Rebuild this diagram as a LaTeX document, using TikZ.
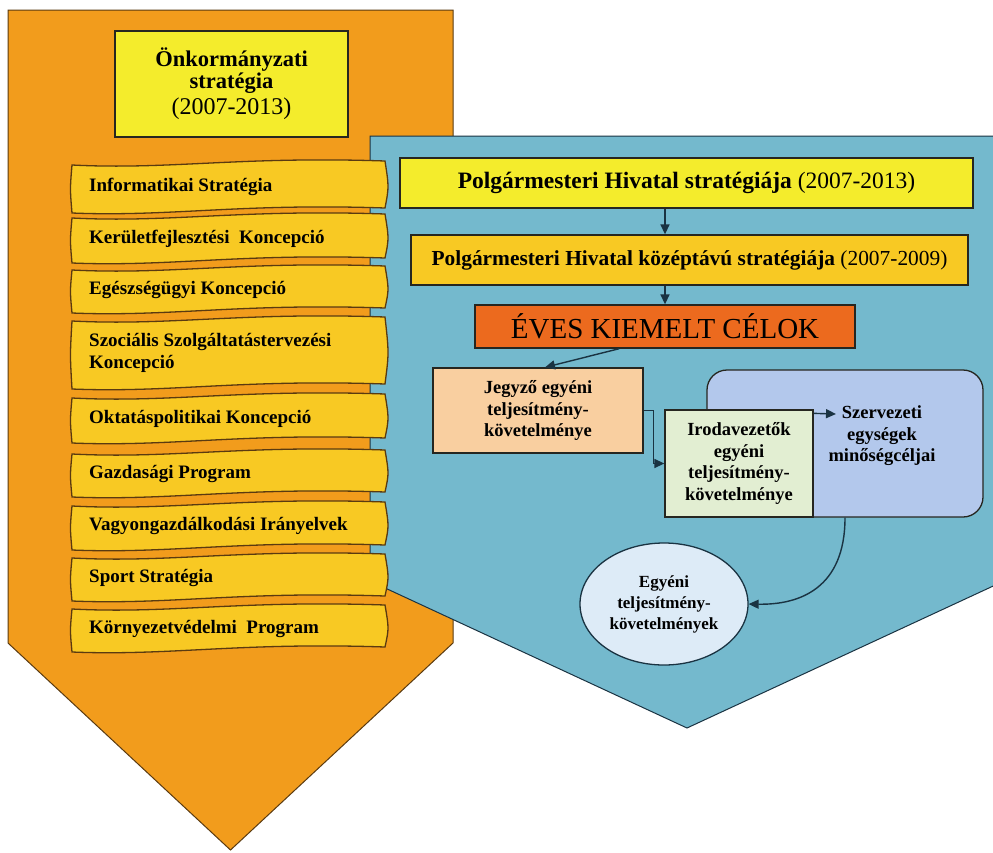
\documentclass[tikz,border=0pt]{standalone}
\usepackage{fontspec}
\setmainfont{Liberation Serif}
\usetikzlibrary{arrows.meta,calc,shapes.geometric}
\definecolor{orangeA}{HTML}{F29C1C}
\definecolor{orangeline}{HTML}{5A3A10}
\definecolor{bluebg}{HTML}{74B9CD}
\definecolor{titleyel}{HTML}{F4EC2C}
\definecolor{banneryel}{HTML}{F8C923}
\definecolor{evesorange}{HTML}{EC6A1E}
\definecolor{peach}{HTML}{F9CFA0}
\definecolor{palegreen}{HTML}{E2EED2}
\definecolor{lavender}{HTML}{B3C8EC}
\definecolor{paleblue}{HTML}{DDEBF7}
\definecolor{outline}{HTML}{262620}
\definecolor{arrowc}{HTML}{1A3342}
\tikzset{
  box/.style={draw=outline, line width=1.3pt, align=center, inner sep=2pt},
  conn/.style={draw=arrowc, line width=1.4pt, -{Triangle[length=10pt,width=9pt]}},
  bannerfill/.style={fill=banneryel, draw=orangeline, line width=1.3pt},
  bannertxt/.style={anchor=west, font=\bfseries\fontsize{19}{22}\selectfont, align=left, inner sep=0pt},
  smalltxt/.style={font=\bfseries\fontsize{18.5}{21.5}\selectfont, align=center}
}
\newcommand{\wavebanner}[4]{%
  \path[bannerfill] (72,{#2+4}) .. controls (170,{#2+9}) and (240,{#2-5}) .. (385,#2)
    .. controls (389,{(#2+#3)/2}) .. (385,{#3-5})
    .. controls (240,{#3-10}) and (170,{#3+4}) .. (72,#3)
    .. controls (70,{(#2+#3)/2+2}) .. (72,{#2+4}) -- cycle;
  \node[bannertxt] (#1) at (89,{(#2+#3)/2}) {#4};
}
\begin{document}
\begin{tikzpicture}[x=1pt,y=-1pt]
\useasboundingbox (0,0) rectangle (993,852);
\fill[white] (0,0) rectangle (993,852);
% orange arrow
\draw[fill=orangeA, draw=orangeline, line width=1pt]
  (8,10) -- (453,10) -- (453,643) -- (230.5,850) -- (8,643) -- cycle;
% title box
\node[box, fill=titleyel, minimum width=233pt, minimum height=106pt] (title) at (231.5,84)
  {\bfseries\fontsize{22.5}{23}\selectfont Önkormányzati\\[0pt]
   \bfseries\fontsize{22.5}{23}\selectfont stratégia\\[4pt]
   \fontsize{24}{24}\selectfont (2007-2013)};
% blue arrow
\draw[fill=bluebg, draw=arrowc, line width=1pt]
  (370,136) -- (1004,136) -- (1004,581) -- (687,728) -- (370,581) -- cycle;
% banners
\wavebanner{b1}{161}{213}{Informatikai Stratégia}
\wavebanner{b2}{214}{263}{Kerületfejlesztési\ \ Koncepció}
\wavebanner{b3}{266}{313}{Egészségügyi Koncepció}
\wavebanner{b4}{317}{389}{Szociális Szolgáltatástervezési\\Koncepció}
\wavebanner{b5}{394}{443}{Oktatáspolitikai Koncepció}
\wavebanner{b6}{450}{497}{Gazdasági Program}
\wavebanner{b7}{502}{550}{Vagyongazdálkodási Irányelvek}
\wavebanner{b8}{554}{601}{Sport Stratégia}
\wavebanner{b9}{605}{652}{Környezetvédelmi\ \ Program}
% right side boxes
\node[box, fill=titleyel, minimum width=573pt, minimum height=50pt] (box1) at (686.5,183)
  {\fontsize{23.5}{25}\selectfont\textbf{Polgármesteri Hivatal stratégiája} (2007-2013)};
\node[box, fill=banneryel, minimum width=557pt, minimum height=50pt] (box2) at (689.5,260)
  {\fontsize{21.4}{24}\selectfont\textbf{Polgármesteri Hivatal középtávú stratégiája} (2007-2009)};
\node[box, fill=evesorange, minimum width=380pt, minimum height=43pt] (box3) at (665,326.5)
  {\fontsize{29}{30}\selectfont ÉVES KIEMELT CÉLOK};
\node[box, fill=peach, minimum width=210pt, minimum height=85pt, smalltxt] (jeg) at (538,410.5)
  {Jegyző egyéni\\teljesítmény-\\követelménye};
\node[draw=outline, line width=1.3pt, fill=lavender, rounded corners=20pt,
  minimum width=276pt, minimum height=147pt] (lav) at (845,443.5) {};
\node[box, fill=palegreen, minimum width=148pt, minimum height=107pt, smalltxt] (iro) at (739,463.5)
  {Irodavezetők\\egyéni\\teljesítmény-\\követelménye};
\node[smalltxt, inner sep=0pt] (szerv) at (882,436) {Szervezeti\\egységek\\minőségcéljai};
\node[draw=arrowc, line width=1.3pt, fill=paleblue, ellipse, minimum width=168pt,
  minimum height=122pt, inner sep=0pt,
  font=\bfseries\fontsize{17}{21}\selectfont, align=center] (ell) at (664,604)
  {Egyéni\\teljesítmény-\\követelmények};
% connectors
\draw[conn] (box1.south -| box3.north) -- (box2.north -| box3.north);
\draw[conn] (box2.south -| box3.north) -- (box3.north);
\draw[conn] ($(box3.south west)!0.38!(box3.south east)$) -- ($(jeg.north)+(7,0)$);
\draw[conn] (jeg.east) -- ++(10,0) |- (iro.west);
\coordinate (szin) at (836,414);
\draw[conn] ($(iro.north east)+(0,4)$) -- (szin);
\draw[conn] (lav.south) .. controls (845,588) and (800,605) .. (ell.east);
\end{tikzpicture}
\end{document}
